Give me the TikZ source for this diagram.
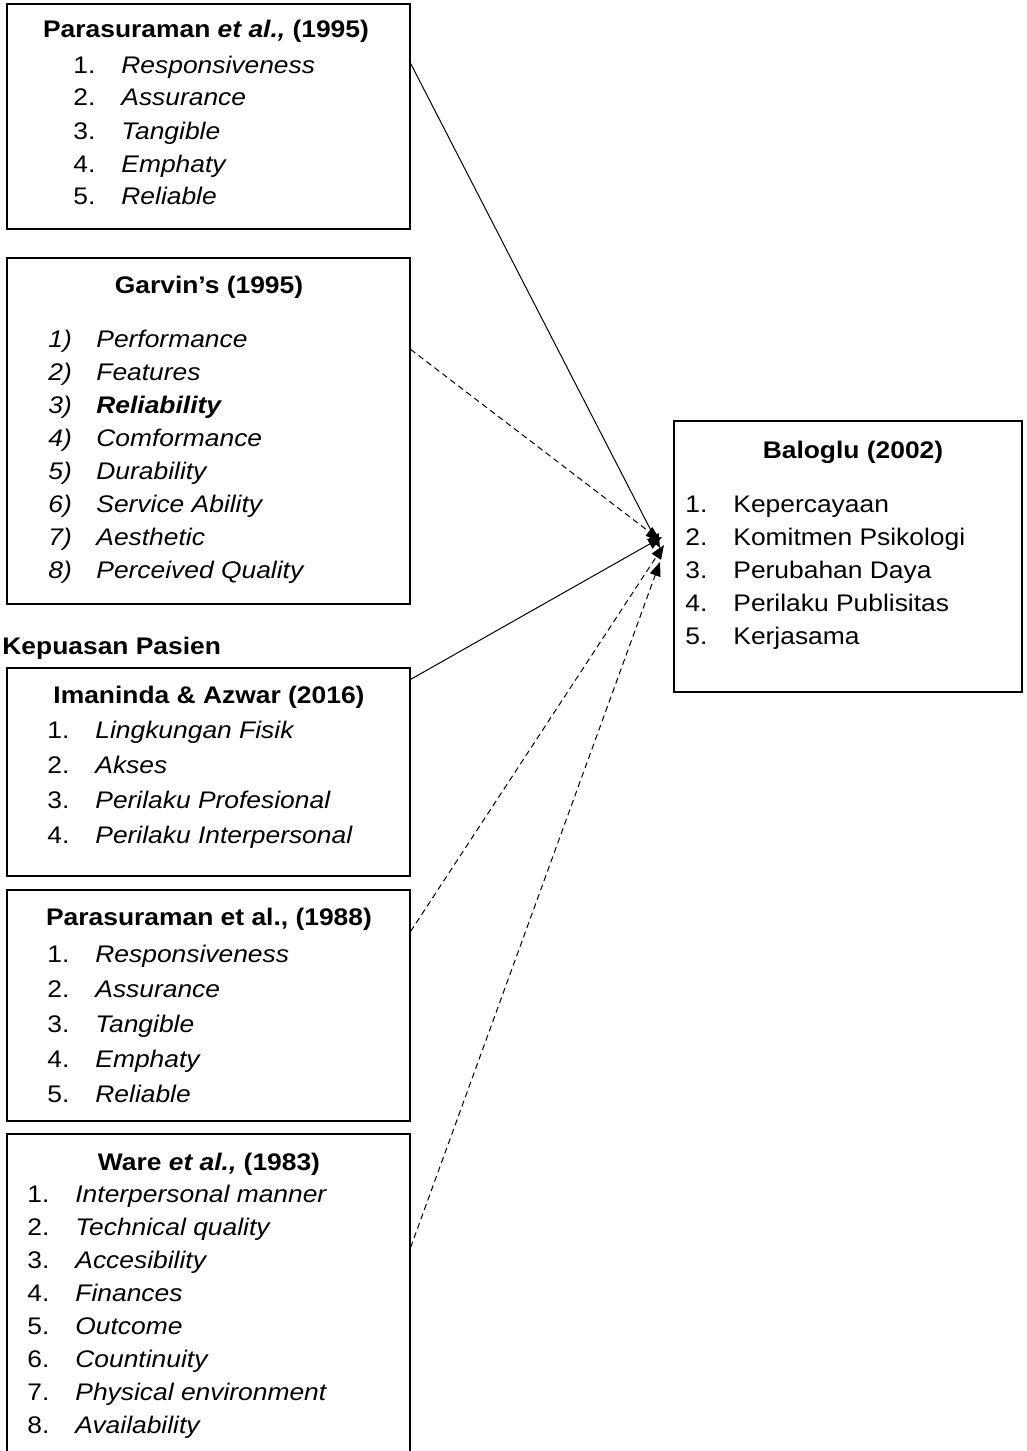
\documentclass[tikz,border=0pt]{standalone}
\usepackage{fontspec}
\setmainfont{Liberation Sans}[FakeStretch=1.1]
\usetikzlibrary{arrows.meta,fit,calc}

\newcommand{\txtsize}{\fontsize{12}{16.5}\selectfont}
\newcommand{\widesize}{\fontsize{12}{17.5}\selectfont}
\newcommand{\entry}[2]{\makebox[24pt][l]{#1}#2}
\newcommand{\entrylist}[1]{\begin{tabular}[t]{@{}l@{}}#1\end{tabular}}

\tikzset{
  srcbox/.style={draw, line width=0.6pt, inner sep=0pt},
  headtxt/.style={anchor=base, inner sep=0pt, font=\txtsize\bfseries},
  listtxt/.style={anchor=base west, inner sep=0pt, font=\txtsize},
  link/.style={line width=0.5pt, -{Triangle[length=7pt,width=5.5pt]}},
  dlink/.style={link, dash pattern=on 3pt off 2pt}
}

\begin{document}
\begin{tikzpicture}[x=0.5pt, y=-0.5pt]

    \useasboundingbox (0,0) rectangle (1027,1451);

    % Parasuraman 1995
    \node[srcbox, fit={(7,4) (410,229)}] (p95) {};
    \node[headtxt] (p95h) at (206,38) {Parasuraman \textit{et al.,} (1995)};
    \node[listtxt] (p95l) at (73,73) {\entrylist{\entry{1.}{\textit{Responsiveness}}\\
        \entry{2.}{\textit{Assurance}}\\ \entry{3.}{\textit{Tangible}}\\
        \entry{4.}{\textit{Emphaty}}\\ \entry{5.}{\textit{Reliable}}}};

    % Garvin
    \node[srcbox, fit={(7,258) (410,604)}] (gar) {};
    \node[headtxt] (garh) at (209,293) {Garvin’s (1995)};
    \node[listtxt, font=\txtsize\itshape] (garl) at (48,347) {\entrylist{\entry{1)}{Performance}\\
        \entry{2)}{Features}\\ \entry{3)}{\textbf{Reliability}}\\
        \entry{4)}{Comformance}\\ \entry{5)}{Durability}\\
        \entry{6)}{Service Ability}\\ \entry{7)}{Aesthetic}\\
        \entry{8)}{Perceived Quality}}};

    \node[headtxt, anchor=base west] (kp) at (2,654) {Kepuasan Pasien};

    % Imaninda & Azwar
    \node[srcbox, fit={(7,668) (410,876)}] (ima) {};
    \node[headtxt] (imah) at (209,703) {Imaninda \& Azwar (2016)};
    \node[listtxt, font=\widesize] (imal) at (47,738) {\entrylist{\entry{1.}{\textit{Lingkungan Fisik}}\\
        \entry{2.}{\textit{Akses}}\\ \entry{3.}{\textit{Perilaku Profesional}}\\
        \entry{4.}{\textit{Perilaku Interpersonal}}}};

    % Parasuraman 1988
    \node[srcbox, fit={(7,890) (410,1121)}] (p88) {};
    \node[headtxt] (p88h) at (209,925) {Parasuraman et al., (1988)};
    \node[listtxt, font=\widesize] (p88l) at (47,962) {\entrylist{\entry{1.}{\textit{Responsiveness}}\\
        \entry{2.}{\textit{Assurance}}\\ \entry{3.}{\textit{Tangible}}\\
        \entry{4.}{\textit{Emphaty}}\\ \entry{5.}{\textit{Reliable}}}};

    % Ware
    \node[srcbox, fit={(7,1134) (410,1470)}] (war) {};
    \node[headtxt] (warh) at (209,1170) {Ware \textit{et al.,} (1983)};
    \node[listtxt] (warl) at (27,1202) {\entrylist{\entry{1.}{\textit{Interpersonal manner}}\\
        \entry{2.}{\textit{Technical quality}}\\ \entry{3.}{\textit{Accesibility}}\\
        \entry{4.}{\textit{Finances}}\\ \entry{5.}{\textit{Outcome}}\\
        \entry{6.}{\textit{Countinuity}}\\ \entry{7.}{\textit{Physical environment}}\\
        \entry{8.}{\textit{Availability}}}};

    % Baloglu
    \node[srcbox, fit={(674,421) (1022,692)}] (bal) {};
    \node[headtxt] (balh) at (853,458) {Baloglu (2002)};
    \node[listtxt] (ball) at (685,512) {\entrylist{\entry{1.}{Kepercayaan}\\
        \entry{2.}{Komitmen Psikologi}\\ \entry{3.}{Perubahan Daya}\\
        \entry{4.}{Perilaku Publisitas}\\ \entry{5.}{Kerjasama}}};

    % arrow tips
    \coordinate (t1) at (660,548);
    \coordinate (t2) at (660,540);
    \coordinate (t3) at (662,537);
    \coordinate (t4) at (664,545);
    \coordinate (t5) at (660,562);

    \draw[link] ([yshift=-30pt]p95.north east) -- (t1);
    \draw[dlink] ([yshift=-46pt]gar.north east) -- (t2);
    \draw[link] ([yshift=-6pt]ima.north east) -- (t3);
    \draw[dlink] ([yshift=-21pt]p88.north east) -- (t4);
    \draw[dlink] ([yshift=-57pt]war.north east) -- (t5);

\end{tikzpicture}
\end{document}
